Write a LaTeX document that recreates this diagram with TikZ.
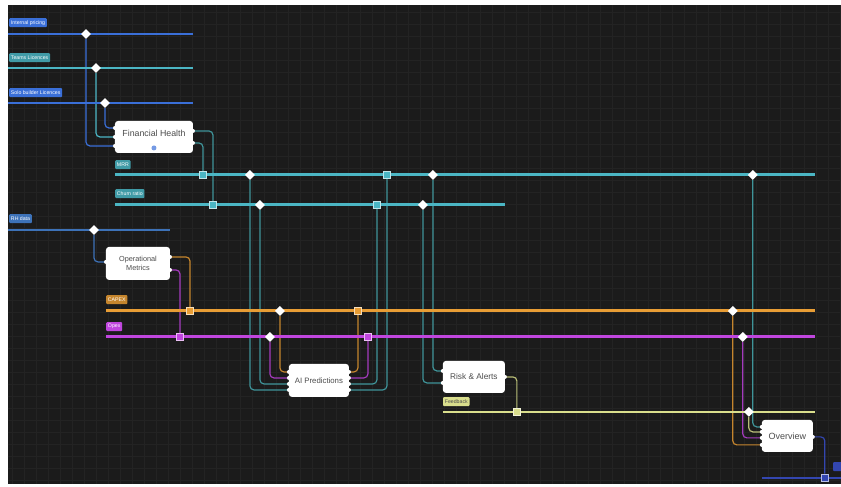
\documentclass[tikz,border=0pt]{standalone}
\usepackage{fontspec}
\setmainfont{Liberation Sans}
\usetikzlibrary{positioning, shapes.geometric}
\definecolor{canvas}{HTML}{1B1B1B}
\definecolor{gridline}{HTML}{232323}
\definecolor{pricing}{HTML}{3A6FD8}
\definecolor{licence}{HTML}{4BB6C4}
\definecolor{rhblue}{HTML}{3D72B8}
\definecolor{capex}{HTML}{E89D35}
\definecolor{opex}{HTML}{C046DE}
\definecolor{feedback}{HTML}{D9DE8C}
\definecolor{outblue}{HTML}{3346B0}
\definecolor{wireteal}{HTML}{3F9499}
\pgfdeclarelayer{backdrop}
\pgfdeclarelayer{wires}
\pgfsetlayers{backdrop,wires,main}

\begin{document}
\begin{tikzpicture}[x=1pt, y=-1pt,
  box/.style={fill=white, rounded corners=3pt, text=black!70, align=center, inner sep=0pt},
  badge/.style={anchor=north west, fill=#1, rounded corners=1pt, inner sep=1.8pt, minimum height=9pt, text=white, font=\fontsize{5.2}{5.5}\selectfont},
  jd/.style={diamond, fill=white, inner sep=0pt, minimum size=10pt},
  jsq/.style={draw=white!65!#1, fill=#1, line width=0.8pt, inner sep=0pt, minimum size=7.5pt},
  bus/.style={#1, line width=3pt},
  wire/.style={#1, line width=1.2pt, rounded corners=4pt}]

  \begin{pgfonlayer}{backdrop}
    \fill[white] (0,0) rectangle (841,487);
    \fill[canvas] (8,5) rectangle (841,484);
    \draw[gridline, line width=0.4pt, step=12pt] (8,5) grid (841,484);
  \end{pgfonlayer}
  \useasboundingbox (0,0) rectangle (841,487);

  % labels on the buses
  \node[badge=pricing] (lPricing) at (9,18) {Internal pricing};
  \node[badge=licence!85!black] (lTeams) at (9,53) {Teams Licences};
  \node[badge=pricing] (lSolo) at (9,88) {Solo builder Licences};
  \node[badge=licence!85!black] (lMRR) at (115,160) {MRR};
  \node[badge=licence!85!black] (lChurn) at (115,189) {Churn ratio};
  \node[badge=rhblue] (lRH) at (9,214) {RH data};
  \node[badge=capex!85!black] (lCapex) at (106,295) {CAPEX};
  \node[badge=opex] (lOpex) at (106,322) {Opex};
  \node[badge=feedback, text=black!70] (lFeed) at (443,397) {Feedback};
  \node[badge=outblue, minimum width=12pt] (lOut) at (833,462) {};

  % blocks
  \node[box, minimum width=78pt, minimum height=32pt, font=\fontsize{8.8}{10}\selectfont] (fin) at (154,137) {Financial Health\\[-2pt]\mbox{}};
  \fill[pricing!70!white] (154,148) circle (2.5);
  \node[box, minimum width=64pt, minimum height=33pt, font=\fontsize{7.3}{8.6}\selectfont] (ops) at (138,263.5) {Operational\\Metrics};
  \node[box, minimum width=60pt, minimum height=33pt, font=\fontsize{7.8}{9}\selectfont] (ai) at (319,380.5) {AI Predictions};
  \node[box, minimum width=62pt, minimum height=32pt, font=\fontsize{8.3}{9.5}\selectfont] (risk) at (474,377) {Risk \& Alerts};
  \node[box, minimum width=51pt, minimum height=32pt, font=\fontsize{9}{10}\selectfont] (ovr) at (787.5,436) {Overview};

  % junctions
  \node[jd] (dPricing) at (86,34) {};
  \node[jd] (dTeams) at (96,68) {};
  \node[jd] (dSolo) at (105,103) {};
  \node[jd] (dRH) at (94,230) {};
  \node[jd] (dMRRa) at (250,175) {};
  \node[jd] (dMRRb) at (433,175) {};
  \node[jd] (dMRRc) at (753,175) {};
  \node[jd] (dChurnA) at (260,205) {};
  \node[jd] (dChurnB) at (423,205) {};
  \node[jd] (dCapexA) at (280,311) {};
  \node[jd] (dCapexB) at (733,311) {};
  \node[jd] (dOpexA) at (270,337) {};
  \node[jd] (dOpexB) at (743,337) {};
  \node[jd] (dFeed) at (749,412) {};
  \node[jsq=licence] (sMRRa) at (203,175) {};
  \node[jsq=licence] (sMRRb) at (387,175) {};
  \node[jsq=licence] (sChurnA) at (213,205) {};
  \node[jsq=licence] (sChurnB) at (377,205) {};
  \node[jsq=capex] (sCapexA) at (190,311) {};
  \node[jsq=capex] (sCapexB) at (358,311) {};
  \node[jsq=opex] (sOpexA) at (180,337) {};
  \node[jsq=opex] (sOpexB) at (368,337) {};
  \node[jsq=feedback] (sFeed) at (517,412) {};
  \node[jsq=outblue] (sOut) at (825,478) {};

  % ports
  \coordinate (finI1) at (115,128);
  \coordinate (finI2) at (115,137);
  \coordinate (finI3) at (115,146);
  \coordinate (finO1) at (193,131);
  \coordinate (finO2) at (193,143);
  \coordinate (opsI1) at (106,262);
  \coordinate (opsO1) at (170,257);
  \coordinate (opsO2) at (170,270);
  \coordinate (aiI1) at (289,372);
  \coordinate (aiI2) at (289,378);
  \coordinate (aiI3) at (289,384);
  \coordinate (aiI4) at (289,390);
  \coordinate (aiO1) at (349,372);
  \coordinate (aiO2) at (349,378);
  \coordinate (aiO3) at (349,384);
  \coordinate (aiO4) at (349,390);
  \coordinate (riskI1) at (443,371);
  \coordinate (riskI2) at (443,383);
  \coordinate (riskO1) at (505,377);
  \coordinate (ovrI1) at (762,427);
  \coordinate (ovrI2) at (762,432);
  \coordinate (ovrI3) at (762,438);
  \coordinate (ovrI4) at (762,445);
  \coordinate (ovrO1) at (813,437);

  \begin{pgfonlayer}{wires}
    % connectors
    \draw[wire=pricing] (dSolo) |- (finI1);
    \draw[wire=licence] (dTeams) |- (finI2);
    \draw[wire=pricing] (dPricing) |- (finI3);
    \draw[wire=wireteal] (finO1) -| (sChurnA);
    \draw[wire=wireteal] (finO2) -| (sMRRa);
    \draw[wire=rhblue] (dRH) |- (opsI1);
    \draw[wire=capex!85!black] (opsO1) -| (sCapexA);
    \draw[wire=opex!85!black] (opsO2) -| (sOpexA);
    \draw[wire=capex!85!black] (dCapexA) |- (aiI1);
    \draw[wire=opex!85!black] (dOpexA) |- (aiI2);
    \draw[wire=wireteal] (dChurnA) |- (aiI3);
    \draw[wire=wireteal] (dMRRa) |- (aiI4);
    \draw[wire=capex!85!black] (aiO1) -| (sCapexB);
    \draw[wire=opex!85!black] (aiO2) -| (sOpexB);
    \draw[wire=wireteal] (aiO3) -| (sChurnB);
    \draw[wire=wireteal] (aiO4) -| (sMRRb);
    \draw[wire=wireteal] (dMRRb) |- (riskI1);
    \draw[wire=wireteal] (dChurnB) |- (riskI2);
    \draw[wire=feedback!85!black] (riskO1) -| (sFeed);
    \draw[wire=wireteal] (dMRRc) |- (ovrI1);
    \draw[wire=feedback!85!black] (dFeed) |- (ovrI2);
    \draw[wire=opex!85!black] (dOpexB) |- (ovrI3);
    \draw[wire=capex!85!black] (dCapexB) |- (ovrI4);
    \draw[wire=outblue] (ovrO1) -| (sOut);
    % buses
    \draw[bus=pricing, line width=2pt] (8,34) -- (193,34);
    \draw[bus=licence, line width=2pt] (8,68) -- (193,68);
    \draw[bus=pricing, line width=2pt] (8,103) -- (193,103);
    \draw[bus=licence] (115,175) -- (815,175);
    \draw[bus=licence] (115,205) -- (505,205);
    \draw[bus=rhblue, line width=2pt] (8,230) -- (170,230);
    \draw[bus=capex] (106,311) -- (815,311);
    \draw[bus=opex] (106,337) -- (815,337);
    \draw[bus=feedback, line width=2pt] (443,412) -- (815,412);
    \draw[bus=outblue, line width=1.5pt] (762,478) -- (841,478);
  \end{pgfonlayer}

  % port dots
  \foreach \p in {finI1,finI2,finI3,finO1,finO2,opsI1,opsO1,opsO2,aiI1,aiI2,aiI3,aiI4,aiO1,aiO2,aiO3,aiO4,riskI1,riskI2,riskO1,ovrI1,ovrI2,ovrI3,ovrI4,ovrO1}
    \fill[white] (\p) circle (2);
\end{tikzpicture}
\end{document}
